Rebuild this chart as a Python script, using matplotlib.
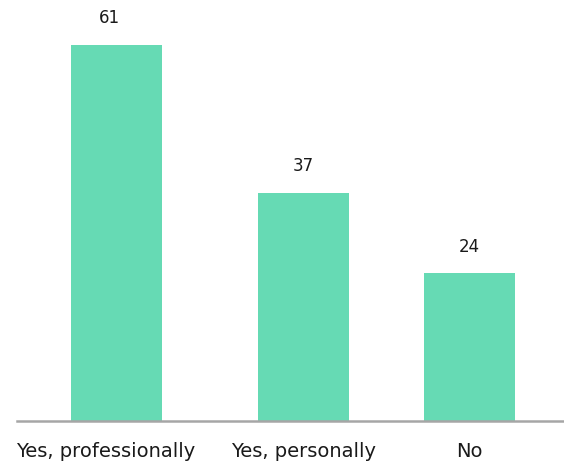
import matplotlib
matplotlib.use("Agg")
import matplotlib.pyplot as plt

categorie = ["Yes, professionally", "Yes, personally", "No"]
valori = [61, 37, 24]

plt.rcParams['font.family'] = ['DejaVu Sans']

# centri delle barre (spaziatura non uniforme come nell'impaginazione originale)
posizioni = [0, 1, 1.888]
larghezza = 0.487

fig = plt.figure(figsize=(5.64, 4.63), dpi=100)
ax = fig.add_axes([17/564, 42/463, 546/564, 421/463])

barre = ax.bar(posizioni, valori, width=larghezza, color="#66dab4", zorder=2)
for x, v in zip(posizioni, valori):
    ax.text(x - (0.035 if v == 61 else 0), v + 4.3, str(v), ha="center", va="center",
            fontsize=12, color="#1a1a1a")

ax.set_xlim(-0.532, 2.388)
ax.set_ylim(0, 68.3)
ax.set_xticks([posizioni[0] - 0.06, posizioni[1], posizioni[2]])
ax.set_xticklabels(categorie, fontsize=14, color="#1a1a1a")
ax.tick_params(axis="x", length=0, pad=15)
ax.set_yticks([])
for lato in ["top", "right", "left"]:
    ax.spines[lato].set_visible(False)
ax.spines["bottom"].set_color("#a6a6a6")
ax.spines["bottom"].set_linewidth(1.8)

fig.savefig("out.png", dpi=100)
